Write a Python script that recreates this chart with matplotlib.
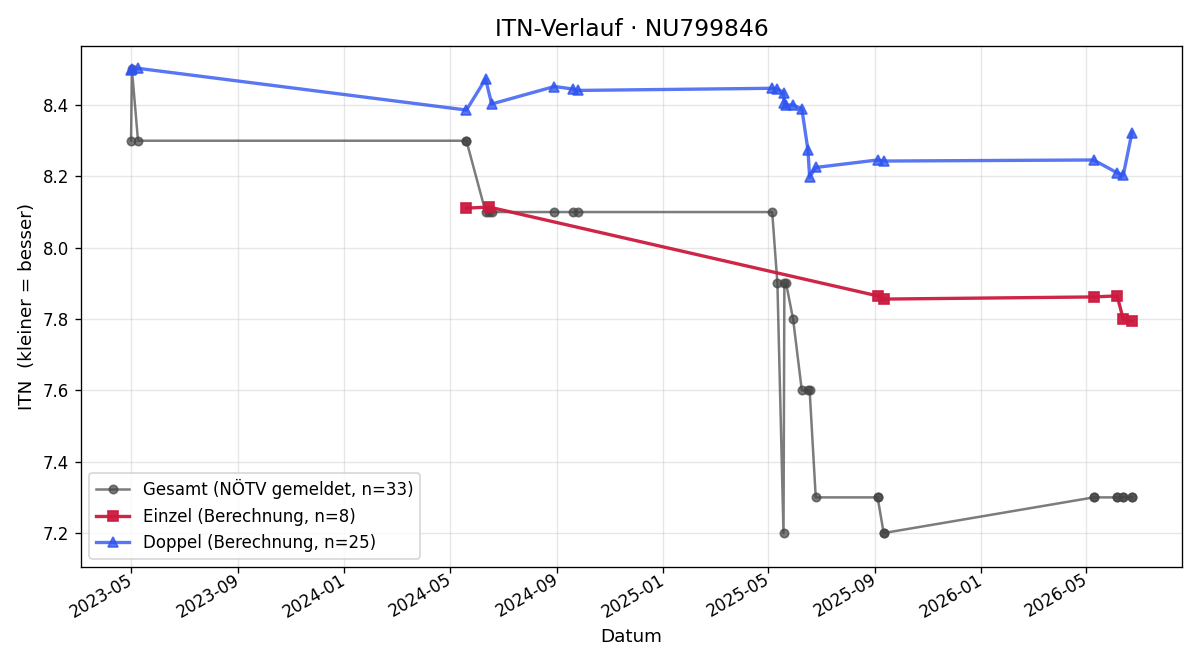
import pandas as pd
import matplotlib
matplotlib.use("Agg")
import matplotlib.pyplot as plt
import matplotlib.dates as mdates

# Gesamt (NÖTV gemeldet) - one point per match
gesamt_dates = [
    "2023-05-01", "2023-05-02", "2023-05-09",
    "2024-05-20", "2024-05-20", "2024-06-11", "2024-06-15", "2024-06-18",
    "2024-08-29", "2024-09-19", "2024-09-25",
    "2025-05-06", "2025-05-12", "2025-05-19", "2025-05-20", "2025-05-22",
    "2025-05-30", "2025-06-09", "2025-06-16", "2025-06-18", "2025-06-25",
    "2025-09-04", "2025-09-04", "2025-09-11", "2025-09-11",
    "2026-05-10", "2026-05-10", "2026-06-06", "2026-06-06",
    "2026-06-13", "2026-06-13", "2026-06-23", "2026-06-23",
]
gesamt_itn = [
    8.3, 8.5, 8.3,
    8.3, 8.3, 8.1, 8.1, 8.1,
    8.1, 8.1, 8.1,
    8.1, 7.9, 7.2, 7.9, 7.9,
    7.8, 7.6, 7.6, 7.6, 7.3,
    7.3, 7.3, 7.2, 7.2,
    7.3, 7.3, 7.3, 7.3,
    7.3, 7.3, 7.3, 7.3,
]

# Einzel (Berechnung)
einzel_dates = [
    "2024-05-20", "2024-06-15", "2025-09-04", "2025-09-11",
    "2026-05-10", "2026-06-06", "2026-06-13", "2026-06-23",
]
einzel_itn = [8.111, 8.114, 7.865, 7.856, 7.862, 7.865, 7.800, 7.794]

# Doppel (Berechnung)
doppel_dates = [
    "2023-05-01", "2023-05-02", "2023-05-09",
    "2024-05-20", "2024-06-11", "2024-06-18",
    "2024-08-29", "2024-09-19", "2024-09-25",
    "2025-05-06", "2025-05-12", "2025-05-19", "2025-05-20", "2025-05-22",
    "2025-05-30", "2025-06-09", "2025-06-16", "2025-06-18", "2025-06-25",
    "2025-09-04", "2025-09-11",
    "2026-05-10", "2026-06-06", "2026-06-13", "2026-06-23",
]
doppel_itn = [
    8.497, 8.500, 8.503,
    8.386, 8.473, 8.403,
    8.452, 8.445, 8.441,
    8.447, 8.445, 8.435, 8.405, 8.400,
    8.400, 8.390, 8.275, 8.198, 8.225,
    8.246, 8.243,
    8.246, 8.210, 8.203, 8.323,
]


def main():
    g_x = pd.to_datetime(gesamt_dates)
    e_x = pd.to_datetime(einzel_dates)
    d_x = pd.to_datetime(doppel_dates)

    fig, ax = plt.subplots(figsize=(10, 5.5), dpi=120)

    ax.plot(g_x, gesamt_itn, color="#444444", alpha=0.7, lw=1.5,
            marker="o", ms=5, label="Gesamt (NÖTV gemeldet, n=%d)" % len(gesamt_itn))
    ax.plot(e_x, einzel_itn, color="#cc1a3f", alpha=0.95, lw=2,
            marker="s", ms=6, label="Einzel (Berechnung, n=%d)" % len(einzel_itn))
    ax.plot(d_x, doppel_itn, color="#2f55f0", alpha=0.8, lw=2,
            marker="^", ms=6, label="Doppel (Berechnung, n=%d)" % len(doppel_itn))

    ax.set_ylim(7.105, 8.565)
    ax.xaxis.set_major_locator(mdates.MonthLocator(bymonth=[1, 5, 9]))
    ax.xaxis.set_major_formatter(mdates.DateFormatter("%Y-%m"))
    for lab in ax.get_xticklabels():
        lab.set_rotation(30)
        lab.set_ha("right")
        lab.set_va("center")
        lab.set_rotation_mode("anchor")

    ax.set_title("ITN-Verlauf · NU799846", fontsize=14)
    ax.set_xlabel("Datum", fontsize=11)
    ax.set_ylabel("ITN  (kleiner = besser)", fontsize=11)
    ax.grid(True, alpha=0.3)
    ax.legend(loc="lower left", fontsize=10)

    # match the reference layout
    fig.subplots_adjust(left=0.0675, right=0.985, top=0.93, bottom=0.141)
    fig.savefig("out.png")


if __name__ == "__main__":
    main()
